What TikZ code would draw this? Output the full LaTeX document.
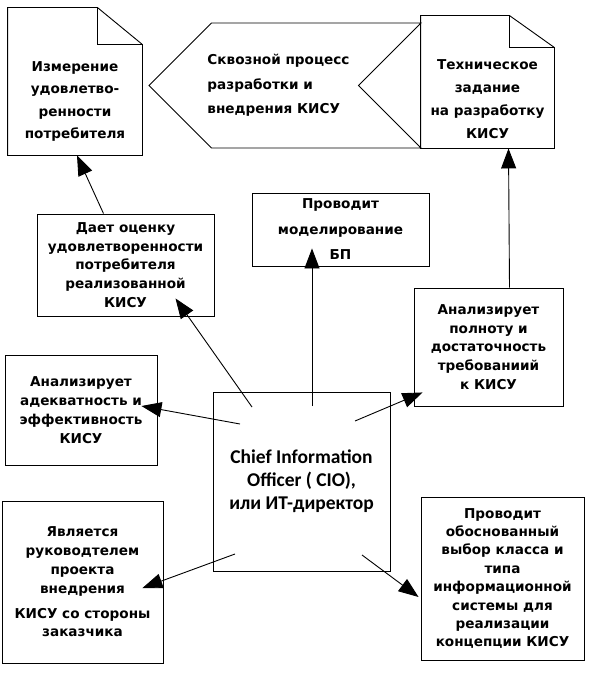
\documentclass[tikz,border=0pt]{standalone}
\usepackage{fontspec}
\setmainfont{DejaVu Sans}
\newfontfamily\ciofont{Carlito}
\usetikzlibrary{shapes.symbols,arrows.meta}

\tikzset{
  box/.style={draw, align=center, inner sep=0pt, font=\fontsize{13.6}{18.8}\selectfont\bfseries},
  txt/.style={align=center, inner sep=0pt, font=\fontsize{13.6}{22.5}\selectfont\bfseries},
  arr/.style={-{Triangle[length=20pt,width=15pt]}},
}

\begin{document}
\begin{tikzpicture}[x=1pt,y=-1pt,line width=0.9pt]
\useasboundingbox (0,0) rectangle (594,674);

% documents with folded corner
\node[minimum width=134pt,minimum height=147pt] (izm) at (75,81.5) {};
\draw (izm.south west) -- (izm.north west) -- ([xshift=-45pt]izm.north east) -- ([yshift=-37pt]izm.north east) -- (izm.south east) -- cycle;
\draw ([xshift=-45pt]izm.north east) |- ([yshift=-37pt]izm.north east);
\node[txt] (izmT) at ([yshift=-20pt]izm.center) {Измерение\\удовлетво-\\ренности\\потребителя};

\node[signal,draw,signal to=west,signal from=east,signal pointer angle=90,minimum width=272pt,minimum height=125pt,inner sep=0pt] (skv) at (285,85.5) {};
\node[txt,align=left,anchor=west,font=\fontsize{13.6}{24.5}\selectfont\bfseries] (skvT) at (207,85.5) {Сквозной процесс\\разработки и\\внедрения КИСУ};

\node[minimum width=133pt,minimum height=132pt] (tz) at (487.5,82) {};
\draw (tz.south west) -- (tz.north west) -- ([xshift=-45pt]tz.north east) -- ([yshift=-32pt]tz.north east) -- (tz.south east) -- cycle;
\draw ([xshift=-45pt]tz.north east) |- ([yshift=-32pt]tz.north east);
\node[txt,font=\fontsize{13.6}{23}\selectfont\bfseries] (tzT) at ([yshift=-17pt]tz.center) {Техническое\\задание\\на разработку\\КИСУ};

% boxes
\node[box,minimum width=177pt,minimum height=102pt] (ocenka) at (125.5,265) {Дает оценку\\удовлетворенности\\потребителя\\реализованной\\КИСУ};
\node[box,minimum width=152pt,minimum height=110pt] (adekv) at (81,410) {Анализирует\\адекватность и\\эффективность\\КИСУ};
\node[box,minimum width=177pt,minimum height=73pt,font=\fontsize{13.6}{25.5}\selectfont\bfseries] (model) at (340.5,229.5) {Проводит\\моделирование\\БП};
\node[box,minimum width=149pt,minimum height=118pt] (polnota) at (488.5,347) {Анализирует\\полноту и\\достаточность\\требованиий\\к КИСУ};
\node[box,minimum width=177pt,minimum height=179pt,font=\fontsize{19.5}{23}\selectfont\ciofont\bfseries] (cio) at (301.5,481.5) {Chief Information\\Officer ( CIO),\\или ИТ-директор};
\node[box,minimum width=161pt,minimum height=162pt] (ruk) at (82.5,582) {Является\\руководтелем\\проекта\\внедрения\\[6pt]КИСУ со стороны\\заказчика};
\node[box,minimum width=163pt,minimum height=163pt,font=\fontsize{13.6}{18.4}\selectfont\bfseries] (vybor) at (502.5,578.5) {Проводит\\обоснованный\\выбор класса и\\типа\\информационной\\системы для\\реализации\\концепции КИСУ};

% start points inside the CIO box
\foreach \n/\x/\y in {mod/312/406,oc/252/407,ad/240/424,pol/355/421,ruk/235/554,vyb/362/555}
  \coordinate (s\n) at (\x,\y);

\draw[arr] ([xshift=-22pt]ocenka.north) -- ([xshift=2pt]izm.south);
\draw[arr] ([xshift=21pt]polnota.north) -- ([xshift=21pt]tz.south);
\draw[arr] (smod) -- ([yshift=18pt]model.south -| smod);
\draw[arr] (soc) -- ([xshift=50pt,yshift=18pt]ocenka.south);
\draw[arr] (sad) -- ([xshift=-16pt,yshift=4pt]adekv.east);
\draw[arr] (spol) -- ([xshift=9pt,yshift=14pt]polnota.south west);
\draw[arr] (sruk) -- ([xshift=-21pt,yshift=-6pt]ruk.east);
\draw[arr] (svyb) -- ([xshift=-2pt,yshift=-18.5pt]vybor.west);
\end{tikzpicture}
\end{document}
